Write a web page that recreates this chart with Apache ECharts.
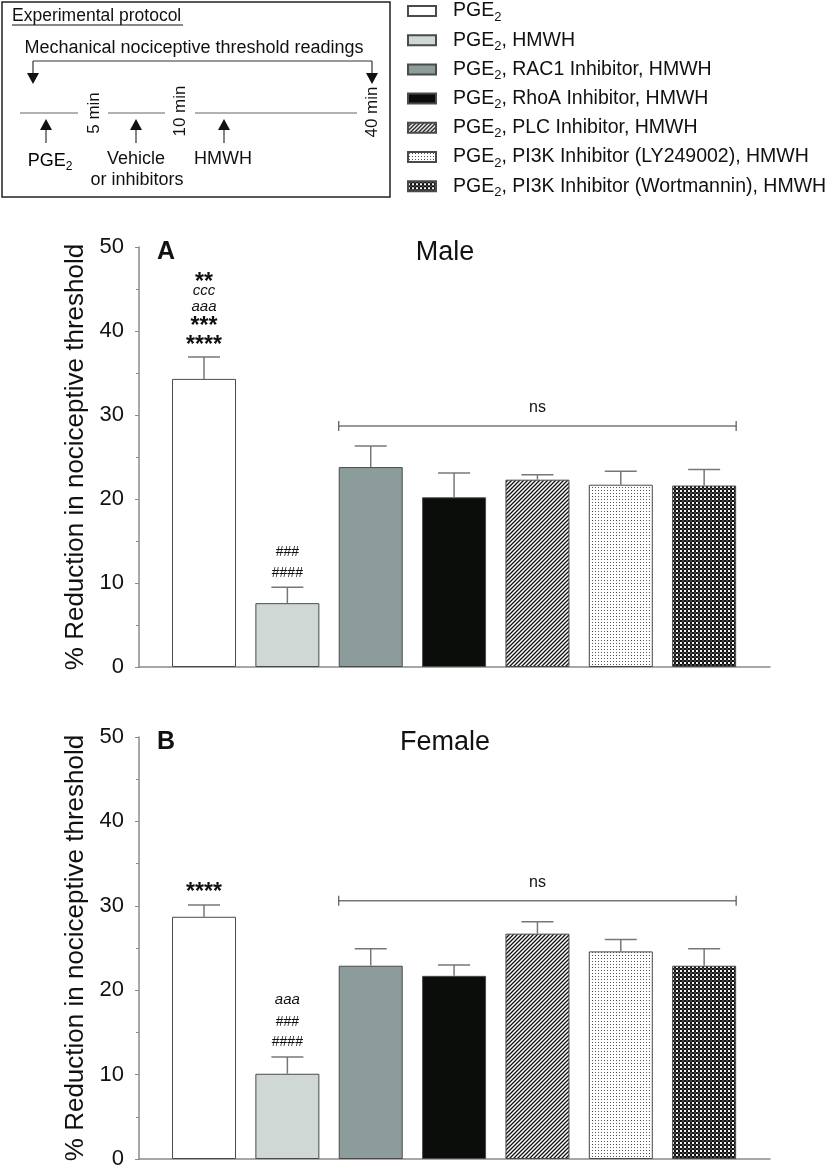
<!DOCTYPE html>
<html><head><meta charset="utf-8">
<script src="https://cdn.jsdelivr.net/npm/echarts@6/dist/echarts.min.js"></script>
<style>html,body{margin:0;padding:0;background:#fff}#c{width:831px;height:1173px}</style>
</head><body><div id="c"></div>
<script>
// ---------------- data ----------------
const categories = ['PGE2', 'PGE2, HMWH', 'PGE2, RAC1 Inhibitor, HMWH', 'PGE2, RhoA Inhibitor, HMWH',
  'PGE2, PLC Inhibitor, HMWH', 'PGE2, PI3K Inhibitor (LY249002), HMWH', 'PGE2, PI3K Inhibitor (Wortmannin), HMWH'];
const maleMean = [34.3, 7.6, 23.8, 20.2, 22.3, 21.7, 21.6];
const maleSem = [2.6, 1.9, 2.5, 2.9, 0.6, 1.6, 1.9];
const femaleMean = [28.7, 10.1, 22.9, 21.7, 26.7, 24.6, 22.9];
const femaleSem = [1.4, 2.0, 2.0, 1.3, 1.4, 1.4, 2.0];
const yTickValues = [0, 10, 20, 30, 40, 50];
const maleAnnot = [[0, 46.4, '**'], [0, 44.8, 'ccc'], [0, 42.9, 'aaa'], [0, 41.1, '***'], [0, 38.9, '****'],
  [1, 13.7, '###'], [1, 11.2, '####']];
const femaleAnnot = [[0, 32.1, '****'], [1, 18.8, 'aaa'], [1, 16.2, '###'], [1, 13.9, '####']];
const maleNs = [2, 6, 28.7];
const femaleNs = [2, 6, 30.6];
const panelTitles = ['Male', 'Female'];
const panelLetters = ['A', 'B'];

// ---------------- styles ----------------
const FONT = 'Liberation Sans, Arial, sans-serif';
function pat(size, draw) {
  const c = document.createElement('canvas'); c.width = size; c.height = size;
  const g = c.getContext('2d'); g.fillStyle = '#fff'; g.fillRect(0, 0, size, size); draw(g, size);
  return { image: c, repeat: 'repeat' };
}
const hatch = pat(4, (g, s) => { g.strokeStyle = '#111'; g.lineWidth = 1.3;
  g.beginPath(); g.moveTo(-1, s + 1); g.lineTo(s + 1, -1); g.moveTo(-1, 1); g.lineTo(1, -1);
  g.moveTo(s - 1, s + 1); g.lineTo(s + 1, s - 1); g.stroke(); });
const dots = pat(3, (g) => { g.fillStyle = '#555'; g.fillRect(1, 1, 1, 1); });
const checker = pat(4, (g) => { g.fillStyle = '#111'; g.fillRect(0, 0, 2, 2); g.fillRect(2, 2, 2, 2);
  g.fillStyle = '#444'; g.fillRect(2, 0, 2, 2); g.fillStyle = '#f4f4f4'; g.fillRect(0, 2, 2, 2); });
const fills = ['#ffffff', '#d0d8d6', '#8c9c9a', '#0b0d0b', hatch, dots, checker];
const AXIS = '#8a8a8a';

const grids = [
  { left: 139, right: 61, top: 247, height: 420 },
  { left: 139, right: 61, top: 737, height: 422 }
];
const xAxes = grids.map((g, i) => ({
  type: 'value', gridIndex: i, min: -0.78, max: 6.79,
  axisLine: { show: true, onZero: false, lineStyle: { color: AXIS, width: 1.5 } },
  axisTick: { show: false }, axisLabel: { show: false }, splitLine: { show: false }
}));
const yAxes = grids.map((g, i) => ({
  type: 'value', gridIndex: i, min: yTickValues[0], max: yTickValues[yTickValues.length - 1],
  interval: yTickValues[1] - yTickValues[0],
  name: '% Reduction in nociceptive threshold', nameLocation: 'middle', nameGap: 40,
  nameTextStyle: { fontSize: 26, color: '#111', fontFamily: FONT },
  axisLine: { show: true, onZero: false, lineStyle: { color: AXIS, width: 1.5 } },
  axisTick: { show: true, length: 4, lineStyle: { color: AXIS } },
  minorTick: { show: true, splitNumber: 2, length: 3, lineStyle: { color: AXIS } },
  axisLabel: { fontSize: 22, color: '#111', margin: 15, fontFamily: FONT },
  splitLine: { show: false }
}));

const series = [];
const panels = [[maleMean, maleSem, maleAnnot, maleNs], [femaleMean, femaleSem, femaleAnnot, femaleNs]];
panels.forEach(([mean, sem, annot, ns], p) => {
  categories.forEach((name, i) => {
    series.push({
      type: 'bar', name, xAxisIndex: p, yAxisIndex: p, barWidth: 64, barGap: '-100%',
      data: [[i, mean[i]]], silent: true,
      itemStyle: { color: fills[i], borderColor: '#4a4a4a', borderWidth: 1 }
    });
  });
  // error bars (upper whisker)
  series.push({
    type: 'custom', xAxisIndex: p, yAxisIndex: p, z: 3, silent: true,
    data: mean.map((m, i) => [i, m, m + sem[i]]),
    renderItem: (params, api) => {
      const b = api.coord([api.value(0), api.value(1)]);
      const t = api.coord([api.value(0), api.value(2)]);
      const st = { stroke: '#777', lineWidth: 1.5 };
      return { type: 'group', children: [
        { type: 'line', shape: { x1: b[0], y1: b[1], x2: t[0], y2: t[1] }, style: st },
        { type: 'line', shape: { x1: t[0] - 16, y1: t[1], x2: t[0] + 16, y2: t[1] }, style: st }
      ] };
    }
  });
  // annotations
  series.push({
    type: 'custom', xAxisIndex: p, yAxisIndex: p, z: 4, silent: true,
    data: annot.map(a => [a[0], a[1]]),
    renderItem: (params, api) => {
      const a = annot[params.dataIndex];
      const pt = api.coord([api.value(0), api.value(1)]);
      const txt = a[2];
      let font;
      if (txt[0] === '*') font = 'bold 23px ' + FONT;
      else if (txt[0] === '#') font = '14px ' + FONT;
      else font = 'italic 15px ' + FONT;
      return { type: 'text', x: pt[0], y: pt[1] + (txt[0] === '*' ? 5 : 0),
        style: { text: txt, font, fill: '#111', align: 'center', verticalAlign: 'middle' } };
    }
  });
  // ns bracket
  series.push({
    type: 'custom', xAxisIndex: p, yAxisIndex: p, z: 4, silent: true,
    data: [ns],
    renderItem: (params, api) => {
      const a = api.coord([api.value(0), api.value(2)]);
      const b = api.coord([api.value(1), api.value(2)]);
      const x1 = a[0] - 32, x2 = b[0] + 32, y = a[1];
      const st = { stroke: '#777', lineWidth: 1.5 };
      return { type: 'group', children: [
        { type: 'line', shape: { x1, y1: y, x2, y2: y }, style: st },
        { type: 'line', shape: { x1, y1: y - 5, x2: x1, y2: y + 5 }, style: { stroke: '#555', lineWidth: 1.2 } },
        { type: 'line', shape: { x1: x2, y1: y - 5, x2, y2: y + 5 }, style: { stroke: '#555', lineWidth: 1.2 } },
        { type: 'text', x: (x1 + x2) / 2, y: y - 18,
          style: { text: 'ns', font: '16px ' + FONT, fill: '#111', align: 'center', verticalAlign: 'middle' } }
      ] };
    }
  });
});

const titles = [];
grids.forEach((g, i) => {
  titles.push({ text: panelLetters[i], left: 152, top: g.top - 12,
    textStyle: { fontSize: 25, fontWeight: 'bold', color: '#111', fontFamily: FONT } });
  titles.push({ text: panelTitles[i], left: 440, top: g.top - 13, textAlign: 'center',
    textStyle: { fontSize: 27, fontWeight: 'normal', color: '#111', fontFamily: FONT } });
});

// protocol diagram (decorative)
const richSub = { n: { fontSize: 18, lineHeight: 24, fontFamily: FONT, color: '#111' },
  s: { fontSize: 12, lineHeight: 12, verticalAlign: 'bottom', fontFamily: FONT, color: '#111' },
  g: { width: 12 } };
const richLeg = { n: { fontSize: 19.5, lineHeight: 25, fontFamily: FONT, color: '#111' },
  s: { fontSize: 13, lineHeight: 13, verticalAlign: 'bottom', fontFamily: FONT, color: '#111' },
  g: { width: 12 } };
const ln = (x1, y1, x2, y2, c, w) => ({ type: 'line', shape: { x1, y1, x2, y2 }, style: { stroke: c || '#333', lineWidth: w || 1.2 } });
const tri = (pts) => ({ type: 'polygon', shape: { points: pts }, style: { fill: '#111' } });
const txt = (text, x, y, size, extra) => ({ type: 'text', x, y,
  style: Object.assign({ text, font: size + 'px ' + FONT, fill: '#111', align: 'center', verticalAlign: 'middle' }, extra || {}) });
const graphic = [
  { type: 'rect', shape: { x: 2, y: 2, width: 388, height: 195 }, style: { fill: 'none', stroke: '#222', lineWidth: 1.5 } },
  txt('Experimental protocol', 12, 16, 17.5, { align: 'left' }),
  ln(12, 25, 183, 25, '#111', 1),
  txt('Mechanical nociceptive threshold readings', 194, 48, 18),
  ln(33, 61, 372, 61), ln(33, 61, 33, 74), ln(372, 61, 372, 74),
  tri([[27, 73], [39, 73], [33, 84]]), tri([[366, 73], [378, 73], [372, 84]]),
  ln(20, 113, 78, 113, '#666'), ln(108, 113, 165, 113, '#666'), ln(195, 113, 357, 113, '#666'),
  Object.assign(txt('5 min', 94, 113, 17), { rotation: Math.PI / 2 }),
  Object.assign(txt('10 min', 180, 111, 17), { rotation: Math.PI / 2 }),
  Object.assign(txt('40 min', 372, 112, 17), { rotation: Math.PI / 2 }),
  ln(46, 129, 46, 143), tri([[40, 130], [52, 130], [46, 119]]),
  ln(136, 129, 136, 143), tri([[130, 130], [142, 130], [136, 119]]),
  ln(224, 129, 224, 143), tri([[218, 130], [230, 130], [224, 119]]),
  { type: 'text', x: 50, y: 161, style: { text: '{n|PGE}{s|2}', rich: richSub, align: 'center', verticalAlign: 'middle' } },
  txt('Vehicle', 136, 159, 18), txt('or inhibitors', 137, 180, 18), txt('HMWH', 223, 159, 18)
];

const chart = echarts.init(document.getElementById('c'), null, { renderer: 'canvas' });
chart.setOption({
  animation: false,
  backgroundColor: '#fff',
  textStyle: { fontFamily: FONT },
  title: titles,
  grid: grids,
  xAxis: xAxes,
  yAxis: yAxes,
  legend: {
    data: categories, orient: 'vertical', left: 407, top: 1, padding: 0,
    itemWidth: 28, itemHeight: 10, itemGap: 6.7, icon: 'rect', selectedMode: false,
    formatter: (name) => {
      const rest = name.slice(4);
      return '{g| }{n|PGE}{s|2}' + (rest ? '{n|' + rest + '}' : '');
    },
    textStyle: { fontSize: 19.5, color: '#111', fontFamily: FONT, rich: richLeg }
  },
  graphic,
  series
});
</script>
</body></html>
